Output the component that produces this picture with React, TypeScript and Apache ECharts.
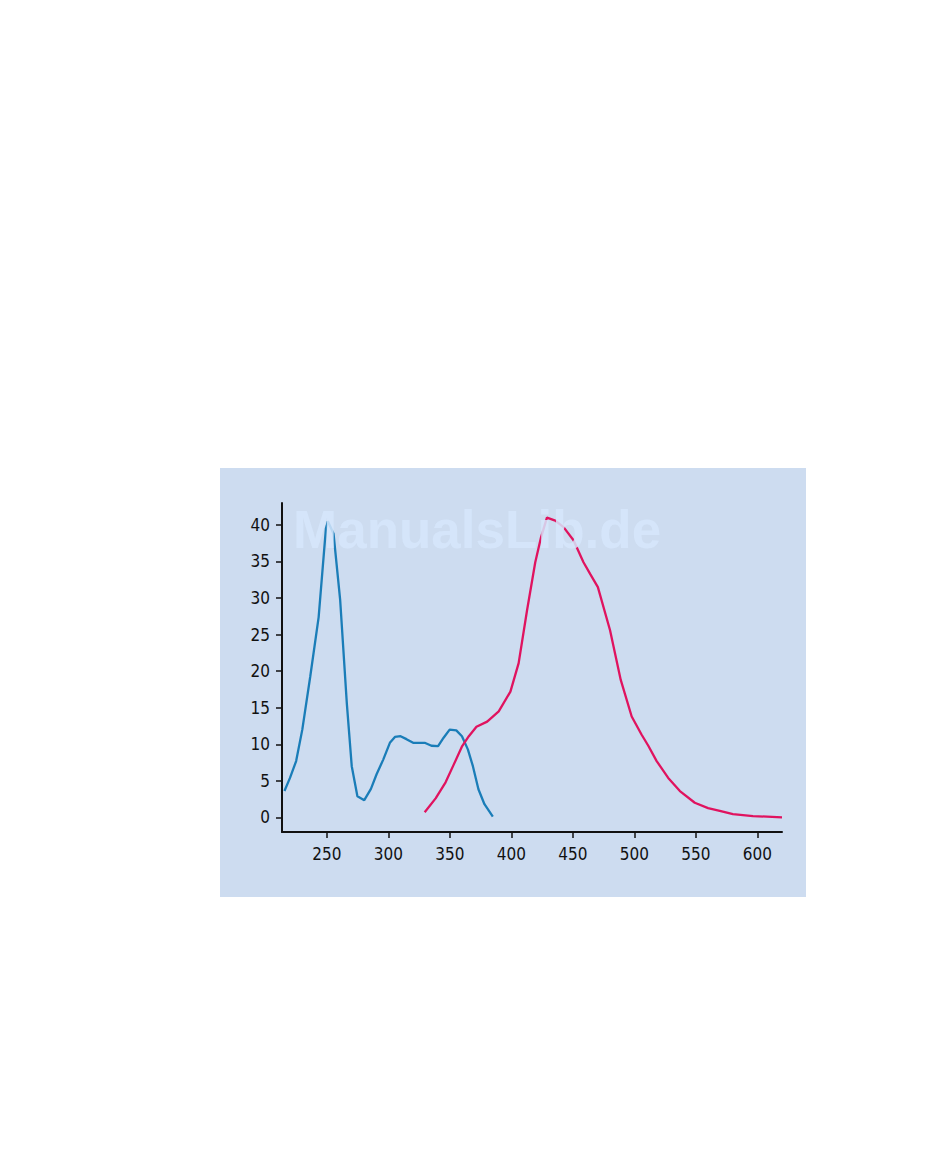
import React, { useEffect, useRef } from "react";
import * as echarts from "echarts";

const blueX = [215.5, 220, 225, 230, 236.5, 243.3, 249.2, 250.8, 255.4, 260.8, 266.2, 270.2, 274.8, 280.4, 285.8, 290.4, 295.8, 301.2, 305.3, 309.9, 314.7, 320.1, 329.5, 335, 340.4, 344.9, 349.8, 355.2, 359.8, 364.6, 368.7, 373.2, 378.1, 384.9];
const blueY = [3.6, 5.4, 7.7, 12, 19.3, 27.4, 39.5, 40.5, 38.8, 29.7, 15.6, 7, 2.9, 2.35, 3.9, 5.9, 7.9, 10.2, 11.0, 11.1, 10.7, 10.2, 10.2, 9.8, 9.75, 10.9, 12.0, 11.9, 11.1, 9.3, 7.0, 3.85, 1.8, 0.1];

const redX = [329.5, 338.4, 346.5, 353.2, 360, 365.4, 371.6, 380.3, 389.7, 399.2, 405.9, 412.7, 419.4, 424.1, 428.9, 435.7, 442.4, 450.5, 458.6, 464, 470.3, 480.2, 488.9, 497.8, 505.9, 511.3, 518.1, 527.5, 537, 549.1, 559.9, 569.4, 580.1, 596.4, 620];
const redY = [0.7, 2.6, 4.8, 7.25, 9.75, 11.1, 12.4, 13.1, 14.5, 17.2, 21.1, 28.3, 34.9, 38.3, 41.0, 40.6, 39.7, 37.9, 34.9, 33.3, 31.5, 25.6, 18.8, 13.8, 11.3, 9.8, 7.7, 5.4, 3.6, 2.0, 1.27, 0.9, 0.45, 0.18, 0];

const xTicks = [250, 300, 350, 400, 450, 500, 550, 600];
const yTicks = [0, 5, 10, 15, 20, 25, 30, 35, 40];

const labelFont = "'Liberation Sans Narrow', 'DejaVu Sans Condensed', sans-serif";

export default function App() {
  const ref = useRef<HTMLDivElement>(null);
  useEffect(() => {
    document.body.style.margin = "0";
    if (!ref.current) return;
    const chart = echarts.init(ref.current, null, { renderer: "svg" });
    const blueData = blueX.map((x, i) => [x, blueY[i]]);
    const redData = redX.map((x, i) => [x, redY[i]]);
    chart.setOption({
      animation: false,
      backgroundColor: "#ffffff",
      graphic: [
        {
          type: "rect",
          z: -10,
          shape: { x: 220, y: 468, width: 586, height: 429 },
          style: { fill: "#cddcf0" },
          silent: true,
        },
        {
          type: "text",
          z: 100,
          x: 293,
          y: 556,
          silent: true,
          style: {
            text: "ManualsLib.de",
            fontFamily: "'Liberation Sans', Arial, sans-serif",
            fontWeight: "bold",
            fontSize: 53,
            fill: "rgba(214,230,252,0.85)",
            verticalAlign: "bottom",
          },
        },
      ],
      grid: { left: 282, top: 503, width: 500, height: 329, containLabel: false },
      xAxis: {
        type: "value",
        min: 213.5,
        max: 620,
        axisLine: { show: true, onZero: false, lineStyle: { color: "#111", width: 2 } },
        axisTick: { show: true, length: 6, customValues: xTicks, lineStyle: { color: "#111", width: 1.5 } },
        axisLabel: { customValues: xTicks, color: "#111", fontSize: 17, fontFamily: labelFont, margin: 13 },
        splitLine: { show: false },
      },
      yAxis: {
        type: "value",
        min: -2,
        max: 43,
        axisLine: { show: true, onZero: false, lineStyle: { color: "#111", width: 2 } },
        axisTick: { show: true, length: 6, customValues: yTicks, lineStyle: { color: "#111", width: 1.5 } },
        axisLabel: { customValues: yTicks, color: "#111", fontSize: 17, fontFamily: labelFont, margin: 12 },
        splitLine: { show: false },
      },
      series: [
        {
          type: "line",
          data: blueData,
          showSymbol: false,
          smooth: false,
          lineStyle: { color: "#1a7db8", width: 2.3 },
          z: 3,
        },
        {
          type: "line",
          data: redData,
          showSymbol: false,
          smooth: false,
          lineStyle: { color: "#e0135f", width: 2.3 },
          z: 4,
        },
      ],
    });
    return () => chart.dispose();
  }, []);
  return <div ref={ref} style={{ width: 950, height: 1165 }} />;
}
